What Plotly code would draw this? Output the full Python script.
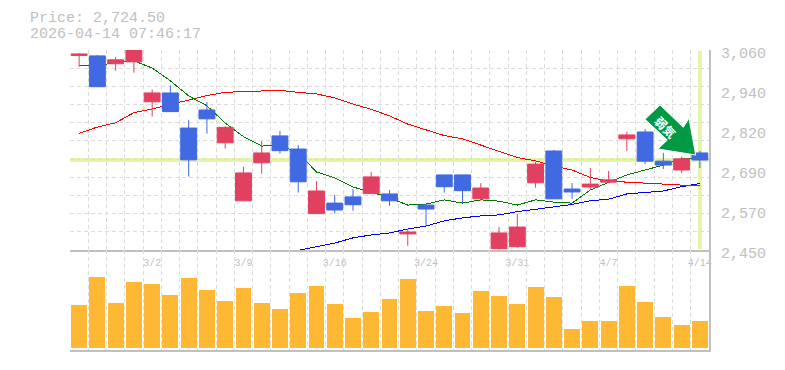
import plotly.graph_objects as go

# ---- data ----
INDEX = list(range(35))
OPEN = [3043, 3042, 3018, 3024, 2902, 2929, 2822, 2877, 2777, 2600, 2716, 2798, 2758, 2561, 2593, 2612, 2622, 2621,
        2499, 2587, 2679, 2679, 2606, 2454, 2460, 2655, 2752, 2636, 2642, 2657, 2789, 2810, 2721, 2694, 2746]
HIGH = [3051, 3045, 3039, 3063, 2940, 2952, 2847, 2901, 2828, 2704, 2782, 2813, 2770, 2660, 2618, 2636, 2688, 2633,
        2514, 2590, 2679, 2679, 2654, 2520, 2560, 2718, 2755, 2654, 2700, 2691, 2810, 2819, 2746, 2735, 2752]
LOW = [3009, 2948, 2997, 2991, 2857, 2872, 2674, 2805, 2759, 2600, 2683, 2744, 2625, 2561, 2561, 2570, 2622, 2585,
       2463, 2523, 2625, 2593, 2600, 2451, 2457, 2640, 2606, 2606, 2633, 2654, 2752, 2712, 2697, 2685, 2700]
CLOSE = [3048, 2948, 3030, 3063, 2929, 2872, 2725, 2850, 2824, 2685, 2746, 2753, 2658, 2630, 2572, 2588, 2673, 2600,
         2505, 2575, 2643, 2631, 2639, 2502, 2520, 2712, 2606, 2627, 2651, 2664, 2801, 2721, 2709, 2728, 2724.5]
MA_SHORT = [3014, 3011, 3023, 3027, 3005, 2966, 2920, 2890, 2837, 2796, 2767, 2770, 2746, 2688, 2670, 2642, 2627, 2609,
            2587, 2590, 2603, 2593, 2603, 2599, 2587, 2603, 2596, 2593, 2633, 2657, 2679, 2694, 2709, 2728, 2731]
MA_MID = [2806, 2825, 2838, 2869, 2880, 2895, 2907, 2921, 2931, 2933, 2933, 2937, 2931, 2926, 2914, 2895, 2879, 2859,
          2834, 2816, 2799, 2789, 2770, 2753, 2732, 2722, 2706, 2694, 2671, 2660, 2657, 2655, 2651, 2648, 2648]
MA_LONG = [None] * 11 + [2438, 2449, 2458, 2471, 2487, 2496, 2502, 2514, 2523, 2539, 2548, 2554, 2557, 2567, 2574,
                         2582, 2589, 2600, 2605, 2621, 2626, 2630, 2643, 2653]
VOLUME = [43, 71, 45, 66, 64, 53, 70, 58, 47, 60, 45, 39, 55, 62, 44, 30, 36, 49,
          69, 37, 42, 35, 57, 52, 44, 61, 51, 19, 27, 27, 62, 46, 31, 23, 27]
DATE_POS = [4, 9, 14, 19, 24, 29, 34]
DATE_LABELS = ["3/2", "3/9", "3/16", "3/24", "3/31", "4/7", "4/14"]
PRICE_TICKS = [3060, 2938, 2816, 2694, 2572, 2450]
PRICE_LABELS = ["3,060", "2,940", "2,820", "2,690", "2,570", "2,450"]
LAST_PRICE = 2724.5
LAST_INDEX = 34
TITLE_LINES = ["Price: 2,724.50", "2026-04-14 07:46:17"]
ARROW_TEXT = "弱気"

# ---- styling ----
W, H = 785, 370
L, R, T, B = 70, 76, 50, 20
PW, PH = W - L - R, H - T - B
GREY = "#c0c0c0"
GRID = "#dcdcdc"
HILITE = "#e4f5a8"
RED = "#e24060"
BLUE = "#4169e1"
MONO = "Liberation Mono"
DASH = "4px,3px"
PRICE_RANGE = [2450, 3060]
X_RANGE = [-0.5, 34.5]
VOL_RANGE = [-2, 98]


def px(x):
    return (x - L) / PW


def py(y):
    return (H - B - y) / PH


grid_x = [i - 0.5 for i in range(36)]
grid_y = [PRICE_RANGE[0] + (PRICE_RANGE[1] - PRICE_RANGE[0]) * i / 11 for i in range(12)]

fig = go.Figure()
fig.add_trace(go.Scatter(x=INDEX, y=MA_LONG, mode="lines", line=dict(color="#0000ff", width=1),
                         connectgaps=False, xaxis="x", yaxis="y"))
fig.add_trace(go.Scatter(x=INDEX, y=MA_MID, mode="lines", line=dict(color="#ff0000", width=1),
                         xaxis="x", yaxis="y"))
fig.add_trace(go.Scatter(x=INDEX, y=MA_SHORT, mode="lines", line=dict(color="#007a00", width=1),
                         xaxis="x", yaxis="y"))
fig.add_trace(go.Candlestick(x=INDEX, open=OPEN, high=HIGH, low=LOW, close=CLOSE,
                             increasing=dict(line=dict(color=RED, width=1), fillcolor=RED),
                             decreasing=dict(line=dict(color=BLUE, width=1), fillcolor=BLUE),
                             whiskerwidth=0, xaxis="x", yaxis="y3"))
fig.add_trace(go.Bar(x=INDEX, y=VOLUME, width=0.87, marker=dict(color="#ffb833", line=dict(width=0)),
                     xaxis="x2", yaxis="y2"))

x_common = dict(range=X_RANGE, showgrid=False, zeroline=False, showline=True, linecolor=GREY, linewidth=2,
                automargin=False, ticks="",
                minor=dict(tickvals=grid_x, showgrid=True, gridcolor=GRID, griddash=DASH, gridwidth=1, ticks=""))

annotations = [
    dict(text=TITLE_LINES[0], xref="paper", yref="paper", x=px(28), y=py(18.5), xanchor="left", yanchor="middle",
         showarrow=False, font=dict(family=MONO, size=15, color=GREY)),
    dict(text=TITLE_LINES[1], xref="paper", yref="paper", x=px(28), y=py(34), xanchor="left", yanchor="middle",
         showarrow=False, font=dict(family=MONO, size=15, color=GREY)),
    dict(text="<b>" + ARROW_TEXT + "</b>", xref="paper", yref="paper", x=px(665.5), y=py(126.5), textangle=45,
         xanchor="center", yanchor="middle", showarrow=False,
         font=dict(family="Noto Sans CJK JP", size=12, color="#ffffff")),
]

arrow_pts = [(645, 119.3), (660, 105), (683.3, 127.3), (689, 118.3), (695.7, 155), (658, 149), (667.3, 140)]
arrow_path = "M " + " L ".join(f"{px(a):.5f},{py(b):.5f}" for a, b in arrow_pts) + " Z"

shapes = [
    dict(type="line", xref="x", yref="y", x0=X_RANGE[0], x1=X_RANGE[1], y0=LAST_PRICE, y1=LAST_PRICE,
         line=dict(color=HILITE, width=4), layer="below"),
    dict(type="line", xref="x", yref="y", x0=LAST_INDEX, x1=LAST_INDEX, y0=2453, y1=3057,
         line=dict(color=HILITE, width=4), layer="below"),
    dict(type="path", xref="paper", yref="paper", path=arrow_path, fillcolor="#009944",
         line=dict(color="#ffffff", width=1), layer="above"),
]

fig.update_layout(
    width=W, height=H, margin=dict(l=L, r=R, t=T, b=B, pad=0, autoexpand=False), autosize=False,
    paper_bgcolor="#ffffff", plot_bgcolor="#ffffff", showlegend=False, boxgap=0.13, boxgroupgap=0, boxmode="overlay",
    bargap=0,
    xaxis=dict(**x_common, domain=[0, 1], anchor="y", tickmode="array", tickvals=DATE_POS, ticktext=DATE_LABELS,
               showticklabels=True, tickfont=dict(family=MONO, size=10, color=GREY), ticklabelposition="outside",
               rangeslider=dict(visible=False), ticklabelstandoff=2),
    xaxis2=dict(**x_common, domain=[0, 1], anchor="y2", showticklabels=False, matches="x"),
    yaxis=dict(domain=[1 / 3, 1], range=PRICE_RANGE, side="right", anchor="x", showgrid=False, zeroline=False,
               automargin=False,
               showline=True, linecolor=GREY, linewidth=2, ticks="", tickmode="array", tickvals=PRICE_TICKS,
               ticktext=PRICE_LABELS, tickfont=dict(family=MONO, size=15, color=GREY), ticklabelstandoff=7,
               ticklabelshift=3,
               minor=dict(tickvals=grid_y, showgrid=True, gridcolor=GRID, griddash=DASH, gridwidth=1, ticks="")),
    yaxis3=dict(range=PRICE_RANGE, overlaying="y", side="right", anchor="x", showgrid=False, zeroline=False,
                automargin=False, showline=False, showticklabels=False, ticks=""),
    yaxis2=dict(domain=[0, 1 / 3], range=VOL_RANGE, side="right", anchor="x2", showgrid=False, zeroline=False,
                automargin=False, showline=True, linecolor=GREY, linewidth=2, ticks="", showticklabels=False),
    annotations=annotations, shapes=shapes,
)

css = ".scatterlayer path.js-line{shape-rendering:crispEdges;}"
fig.write_html("out.html", config=dict(displayModeBar=False),
               post_script="document.body.style.margin='0';document.body.style.overflow='hidden';"
                           "var s=document.createElement('style');s.textContent='" + css + "';document.head.appendChild(s);")
